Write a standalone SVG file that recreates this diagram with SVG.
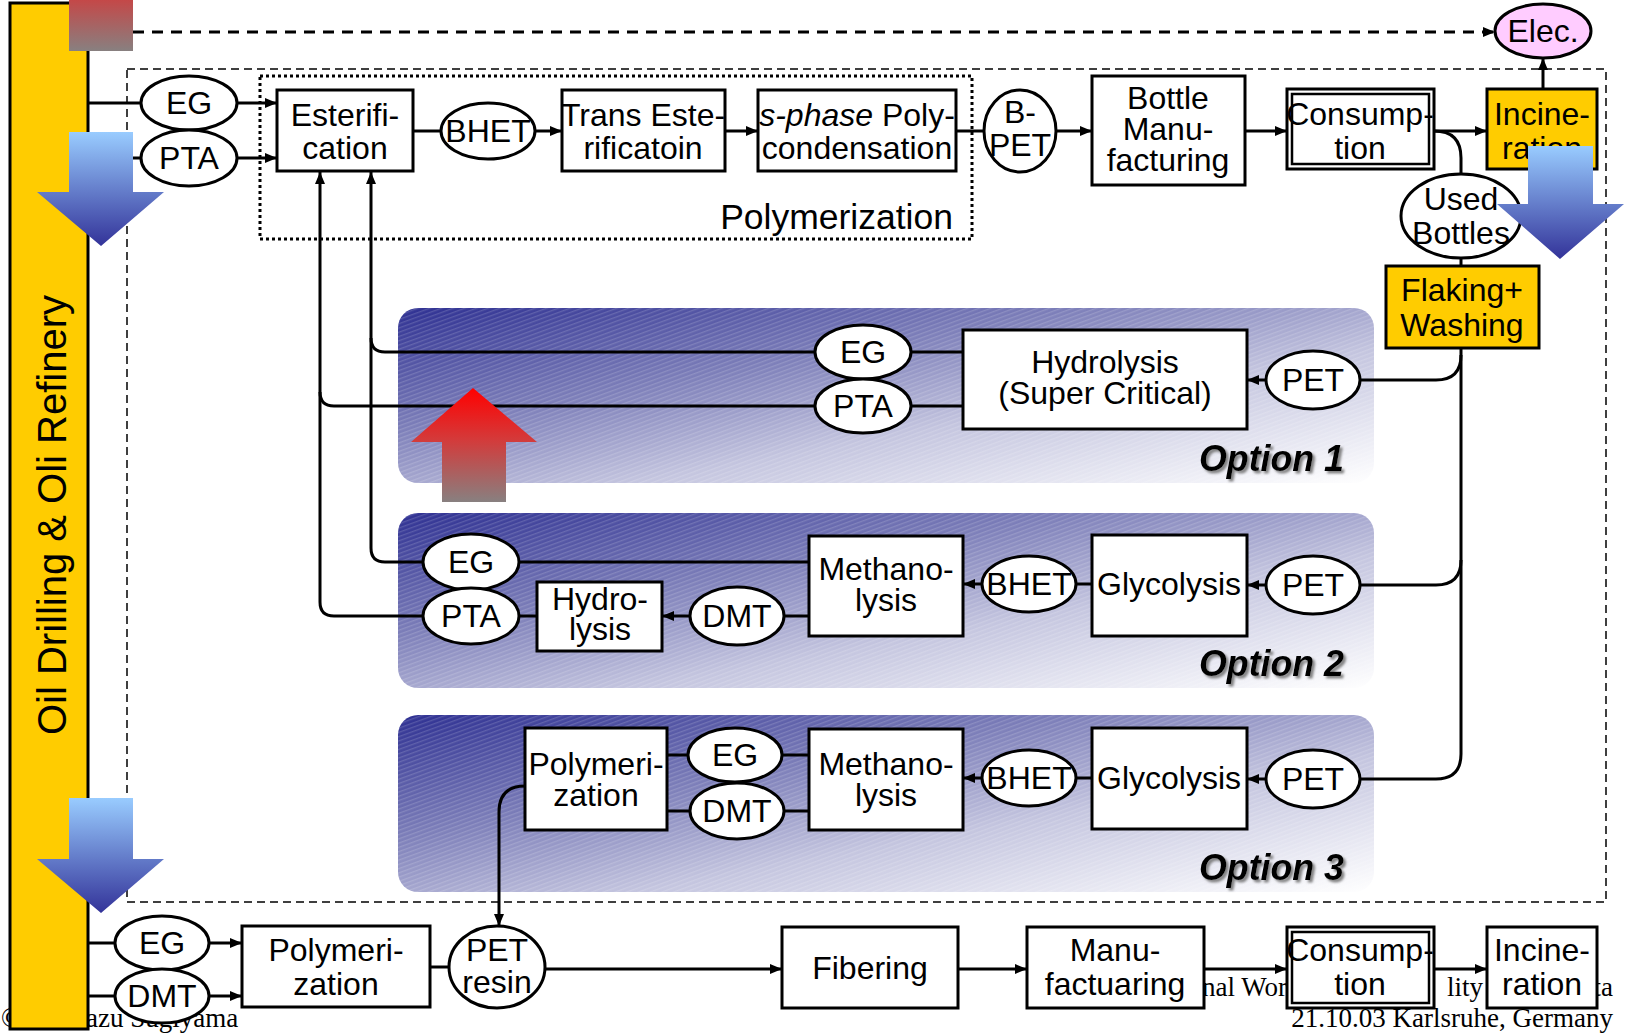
<svg xmlns="http://www.w3.org/2000/svg" width="1630" height="1034" viewBox="0 0 1630 1034">
  <defs>
    <style>
      .box { fill:#fff; stroke:#000; stroke-width:3; }
      .yel { fill:#ffcc00; stroke:#000; stroke-width:3; }
      .ell { fill:#fff; stroke:#000; stroke-width:3; }
      .ln { fill:none; stroke:#000; stroke-width:3; }
      .arr { marker-end:url(#ah); }
      .t { font-family:"Liberation Sans", Arial, sans-serif; font-size:32px; text-anchor:middle; fill:#000; }
      .opt { font-family:"Liberation Sans", Arial, sans-serif; font-size:37px; font-weight:bold; font-style:italic; text-anchor:end; fill:#000; filter:url(#shadow); }
      .foot { font-family:"Liberation Serif", "Times New Roman", serif; font-size:27px; fill:#000; }
      .panel { fill:url(#panelGrad); }
      .hatch { fill:url(#hatch); }
    </style>
    <marker id="ah" viewBox="0 0 12 10" refX="12" refY="5" markerWidth="12" markerHeight="10" markerUnits="userSpaceOnUse" orient="auto">
      <path d="M0,0 L12,5 L0,10 z" fill="#000"/>
    </marker>
    <linearGradient id="panelGrad" x1="0" y1="0" x2="1" y2="1">
      <stop offset="0" stop-color="#2e3092"/>
      <stop offset="0.35" stop-color="#7d7fb9"/>
      <stop offset="0.62" stop-color="#c4c5df"/>
      <stop offset="1" stop-color="#ffffff"/>
    </linearGradient>
    <pattern id="hatch" width="4" height="4" patternUnits="userSpaceOnUse" patternTransform="rotate(-20)">
      <rect width="4" height="1.3" fill="#ffffff" opacity="0.16"/>
    </pattern>
    <linearGradient id="blueGrad" x1="0" y1="0" x2="0" y2="1">
      <stop offset="0" stop-color="#99ccff"/>
      <stop offset="1" stop-color="#333399"/>
    </linearGradient>
    <linearGradient id="redGrad" x1="0" y1="0" x2="0" y2="1">
      <stop offset="0" stop-color="#ff0000"/>
      <stop offset="0.45" stop-color="#d43a3a"/>
      <stop offset="1" stop-color="#888080"/>
    </linearGradient>
    <linearGradient id="squareGrad" x1="0" y1="0" x2="0" y2="1">
      <stop offset="0" stop-color="#c44848"/>
      <stop offset="1" stop-color="#888080"/>
    </linearGradient>
    <filter id="shadow" x="-10%" y="-20%" width="130%" height="150%">
      <feDropShadow dx="2.5" dy="2.5" stdDeviation="1.2" flood-color="#777" flood-opacity="0.9"/>
    </filter>
  </defs>

  <rect width="1630" height="1034" fill="#fff"/>

  <!-- footer texts, partly covered by the bottom row -->
  <g id="footer">
    <text class="foot" x="1" y="1027">©</text>
    <text class="foot" x="86" y="1027">azu Sugiyama</text>
    <text class="foot" x="1202" y="996">nal Wor</text>
    <text class="foot" x="1447" y="996">lity o</text>
    <text class="foot" x="1613" y="996" text-anchor="end">ta</text>
    <text class="foot" x="1613" y="1027" text-anchor="end">21.10.03 Karlsruhe, Germany</text>
  </g>

  <!-- system boundary and polymerization block -->
  <rect x="127" y="69" width="1479" height="833" fill="none" stroke="#000" stroke-width="1.5" stroke-dasharray="8 5"/>
  <rect x="260" y="76" width="712" height="163" fill="none" stroke="#000" stroke-width="3" stroke-dasharray="3 3"/>
  <text class="t" x="953" y="229" style="text-anchor:end;font-size:35.5px">Polymerization</text>

  <!-- recycling option panels -->
  <g id="panels">
    <g id="option1">
      <rect class="panel" x="398" y="308" width="976" height="175" rx="20"/>
      <rect class="hatch" x="398" y="308" width="976" height="175" rx="20"/>
      <text class="opt" x="1344" y="471" textLength="145" lengthAdjust="spacingAndGlyphs">Option 1</text>
    </g>
    <g id="option2">
      <rect class="panel" x="398" y="513" width="976" height="175" rx="20"/>
      <rect class="hatch" x="398" y="513" width="976" height="175" rx="20"/>
      <text class="opt" x="1344" y="676" textLength="145" lengthAdjust="spacingAndGlyphs">Option 2</text>
    </g>
    <g id="option3">
      <rect class="panel" x="398" y="715" width="976" height="177" rx="20"/>
      <rect class="hatch" x="398" y="715" width="976" height="177" rx="20"/>
      <text class="opt" x="1344" y="880" textLength="145" lengthAdjust="spacingAndGlyphs">Option 3</text>
    </g>
  </g>

  <!-- connectors -->
  <g id="connectors">
    <path class="ln arr" d="M133,32 H1495" stroke-dasharray="11 8"/>
    <path class="ln" d="M88,103 H141"/>
    <path class="ln arr" d="M237,103 H277"/>
    <path class="ln" d="M88,158 H141"/>
    <path class="ln arr" d="M237,158 H277"/>
    <path class="ln" d="M413,131 H441"/>
    <path class="ln arr" d="M535,131 H562"/>
    <path class="ln arr" d="M725,131 H758"/>
    <path class="ln" d="M956,131 H984"/>
    <path class="ln arr" d="M1056,131 H1092"/>
    <path class="ln arr" d="M1245,131 H1287"/>
    <path class="ln arr" d="M1434,131 H1487"/>
    <path class="ln arr" d="M1543,89 V58"/>
    <path class="ln" d="M1434,131 Q1461,131 1461,158 V174"/>
    <path class="ln" d="M1461,258 V266"/>
    <path class="ln" d="M1461,348 V754 Q1461,779 1436,779 H1360"/>
    <path class="ln" d="M1461,355 Q1461,380 1436,380 H1360"/>
    <path class="ln" d="M1461,560 Q1461,585 1436,585 H1360"/>
    <!-- option 1 -->
    <path class="ln arr" d="M1266,380 H1247"/>
    <path class="ln" d="M963,352 H911"/>
    <path class="ln" d="M815,352 H385 Q371,352 371,338"/>
    <path class="ln" d="M963,406 H911"/>
    <path class="ln" d="M815,406 H334 Q320,406 320,392"/>
    <path class="ln arr" d="M423,562 H385 Q371,562 371,548 V172"/>
    <path class="ln arr" d="M423,616 H334 Q320,616 320,602 V172"/>
    <!-- option 2 -->
    <path class="ln arr" d="M1266,585 H1247"/>
    <path class="ln" d="M1092,584 H1076"/>
    <path class="ln arr" d="M982,584 H963"/>
    <path class="ln" d="M809,562 H519"/>
    <path class="ln" d="M809,616 H784"/>
    <path class="ln arr" d="M690,616 H662"/>
    <path class="ln" d="M537,616 H519"/>
    <!-- option 3 -->
    <path class="ln arr" d="M1266,779 H1247"/>
    <path class="ln" d="M1092,778 H1076"/>
    <path class="ln arr" d="M982,778 H963"/>
    <path class="ln" d="M809,755 H782"/>
    <path class="ln" d="M688,755 H667"/>
    <path class="ln" d="M809,811 H784"/>
    <path class="ln" d="M690,811 H667"/>
    <path class="ln arr" d="M525,786 Q499,786 499,812 V926"/>
    <!-- fibre route -->
    <path class="ln" d="M88,943 H115"/>
    <path class="ln arr" d="M209,943 H242"/>
    <path class="ln" d="M88,996 H115"/>
    <path class="ln arr" d="M209,996 H242"/>
    <path class="ln" d="M430,967 H449"/>
    <path class="ln arr" d="M545,969 H782"/>
    <path class="ln arr" d="M958,969 H1027"/>
    <path class="ln arr" d="M1204,969 H1287"/>
    <path class="ln arr" d="M1434,969 H1487"/>
  </g>

  <!-- bottle route -->
  <g id="eg-in"><ellipse class="ell" cx="189" cy="103" rx="48" ry="27"/><text class="t" x="189" y="114">EG</text></g>
  <g id="pta-in"><ellipse class="ell" cx="189" cy="158" rx="48" ry="28"/><text class="t" x="189" y="169">PTA</text></g>
  <g id="esterification"><rect class="box" x="277" y="90" width="136" height="81"/><text class="t" x="345" y="126">Esterifi-</text><text class="t" x="345" y="159">cation</text></g>
  <g id="bhet-top"><ellipse class="ell" cx="488" cy="131" rx="47" ry="28"/><text class="t" x="488" y="142">BHET</text></g>
  <g id="trans-esterification"><rect class="box" x="562" y="90" width="163" height="81"/><text class="t" x="643" y="126">Trans Este-</text><text class="t" x="643" y="159">rificatoin</text></g>
  <g id="polycondensation"><rect class="box" x="758" y="90" width="198" height="81"/><text class="t" x="857" y="126"><tspan font-style="italic">s-phase</tspan> Poly-</text><text class="t" x="857" y="159">condensation</text></g>
  <g id="b-pet"><ellipse class="ell" cx="1020" cy="131" rx="36" ry="41"/><text class="t" x="1020" y="123">B-</text><text class="t" x="1020" y="156">PET</text></g>
  <g id="bottle-manufacturing"><rect class="box" x="1092" y="76" width="153" height="109"/><text class="t" x="1168" y="109">Bottle</text><text class="t" x="1168" y="140">Manu-</text><text class="t" x="1168" y="171">facturing</text></g>
  <g id="consumption-top"><rect class="box" x="1287" y="89" width="147" height="80" stroke-width="2"/><rect x="1292" y="94" width="137" height="70" fill="none" stroke="#000" stroke-width="2.5"/><text class="t" x="1360" y="125">Consump-</text><text class="t" x="1360" y="159">tion</text></g>
  <g id="incineration-top"><rect class="yel" x="1487" y="89" width="110" height="80"/><text class="t" x="1542" y="125">Incine-</text><text class="t" x="1542" y="159">ration</text></g>
  <g id="elec"><ellipse cx="1543" cy="31" rx="48" ry="27" fill="#ffccff" stroke="#000" stroke-width="3"/><text class="t" x="1543" y="42">Elec.</text></g>
  <g id="used-bottles"><ellipse class="ell" cx="1461" cy="216" rx="60" ry="42"/><text class="t" x="1461" y="210">Used</text><text class="t" x="1461" y="244">Bottles</text></g>
  <g id="flaking-washing"><rect class="yel" x="1386" y="266" width="153" height="82"/><text class="t" x="1462" y="301">Flaking+</text><text class="t" x="1462" y="336">Washing</text></g>

  <!-- option 1 nodes -->
  <g id="eg-1"><ellipse class="ell" cx="863" cy="352" rx="48" ry="27"/><text class="t" x="863" y="363">EG</text></g>
  <g id="pta-1"><ellipse class="ell" cx="863" cy="406" rx="48" ry="27"/><text class="t" x="863" y="417">PTA</text></g>
  <g id="hydrolysis-sc"><rect class="box" x="963" y="330" width="284" height="99"/><text class="t" x="1105" y="373">Hydrolysis</text><text class="t" x="1105" y="404">(Super Critical)</text></g>
  <g id="pet-1"><ellipse class="ell" cx="1313" cy="380" rx="47" ry="29"/><text class="t" x="1313" y="391">PET</text></g>

  <!-- option 2 nodes -->
  <g id="eg-2"><ellipse class="ell" cx="471" cy="562" rx="48" ry="28"/><text class="t" x="471" y="573">EG</text></g>
  <g id="pta-2"><ellipse class="ell" cx="471" cy="616" rx="48" ry="28"/><text class="t" x="471" y="627">PTA</text></g>
  <g id="hydrolysis-2"><rect class="box" x="537" y="582" width="125" height="69"/><text class="t" x="600" y="610">Hydro-</text><text class="t" x="600" y="640">lysis</text></g>
  <g id="dmt-2"><ellipse class="ell" cx="737" cy="616" rx="47" ry="29"/><text class="t" x="737" y="627">DMT</text></g>
  <g id="methanolysis-2"><rect class="box" x="809" y="536" width="154" height="100"/><text class="t" x="886" y="580">Methano-</text><text class="t" x="886" y="611">lysis</text></g>
  <g id="bhet-2"><ellipse class="ell" cx="1029" cy="584" rx="47" ry="28"/><text class="t" x="1029" y="595">BHET</text></g>
  <g id="glycolysis-2"><rect class="box" x="1092" y="535" width="155" height="101"/><text class="t" x="1169" y="595">Glycolysis</text></g>
  <g id="pet-2"><ellipse class="ell" cx="1313" cy="585" rx="47" ry="29"/><text class="t" x="1313" y="596">PET</text></g>

  <!-- option 3 nodes -->
  <g id="polymerization-3"><rect class="box" x="525" y="728" width="142" height="102"/><text class="t" x="596" y="775">Polymeri-</text><text class="t" x="596" y="806">zation</text></g>
  <g id="eg-3"><ellipse class="ell" cx="735" cy="755" rx="47" ry="27"/><text class="t" x="735" y="766">EG</text></g>
  <g id="dmt-3"><ellipse class="ell" cx="737" cy="811" rx="47" ry="28"/><text class="t" x="737" y="822">DMT</text></g>
  <g id="methanolysis-3"><rect class="box" x="809" y="729" width="154" height="101"/><text class="t" x="886" y="775">Methano-</text><text class="t" x="886" y="806">lysis</text></g>
  <g id="bhet-3"><ellipse class="ell" cx="1029" cy="778" rx="47" ry="28"/><text class="t" x="1029" y="789">BHET</text></g>
  <g id="glycolysis-3"><rect class="box" x="1092" y="728" width="155" height="101"/><text class="t" x="1169" y="789">Glycolysis</text></g>
  <g id="pet-3"><ellipse class="ell" cx="1313" cy="779" rx="47" ry="29"/><text class="t" x="1313" y="790">PET</text></g>

  <!-- fibre route nodes -->
  <g id="eg-fibre"><ellipse class="ell" cx="162" cy="943" rx="47" ry="27"/><text class="t" x="162" y="954">EG</text></g>
  <g id="dmt-fibre"><ellipse class="ell" cx="162" cy="996" rx="47" ry="27"/><text class="t" x="162" y="1007">DMT</text></g>
  <g id="polymerization-fibre"><rect class="box" x="242" y="926" width="188" height="81"/><text class="t" x="336" y="961">Polymeri-</text><text class="t" x="336" y="995">zation</text></g>
  <g id="pet-resin"><ellipse class="ell" cx="497" cy="967" rx="48" ry="41"/><text class="t" x="497" y="961">PET</text><text class="t" x="497" y="993">resin</text></g>
  <g id="fibering"><rect class="box" x="782" y="927" width="176" height="81"/><text class="t" x="870" y="979">Fibering</text></g>
  <g id="manufactuaring"><rect class="box" x="1027" y="927" width="177" height="81"/><text class="t" x="1115" y="961">Manu-</text><text class="t" x="1115" y="995">factuaring</text></g>
  <g id="consumption-fibre"><rect class="box" x="1287" y="927" width="147" height="81" stroke-width="2"/><rect x="1292" y="932" width="137" height="71" fill="none" stroke="#000" stroke-width="2.5"/><text class="t" x="1360" y="961">Consump-</text><text class="t" x="1360" y="995">tion</text></g>
  <g id="incineration-fibre"><rect class="box" x="1487" y="927" width="110" height="81"/><text class="t" x="1542" y="961">Incine-</text><text class="t" x="1542" y="995">ration</text></g>

  <!-- crude oil source -->
  <g id="oil-refinery">
    <rect x="10" y="3" width="78" height="1026" fill="#ffcc00" stroke="#000" stroke-width="3"/>
    <text class="t" transform="translate(66,515) rotate(-90)" style="font-size:40px">Oil Drilling &amp; Oli Refinery</text>
  </g>
  <rect id="energy-source" x="69" y="0" width="64" height="51" fill="url(#squareGrad)"/>

  <!-- flow indicators -->
  <g id="flow-arrows">
    <polygon points="69,132 133,132 133,192 164,192 101,246 37,192 69,192" fill="url(#blueGrad)"/>
    <polygon points="69,798 133,798 133,859 164,859 101,913 37,859 69,859" fill="url(#blueGrad)"/>
    <polygon points="1528,146 1593,146 1593,204 1624,204 1560,259 1497,204 1528,204" fill="url(#blueGrad)"/>
    <polygon points="442,502 506,502 506,442 537,442 473,388 411,442 442,442" fill="url(#redGrad)"/>
  </g>
</svg>
